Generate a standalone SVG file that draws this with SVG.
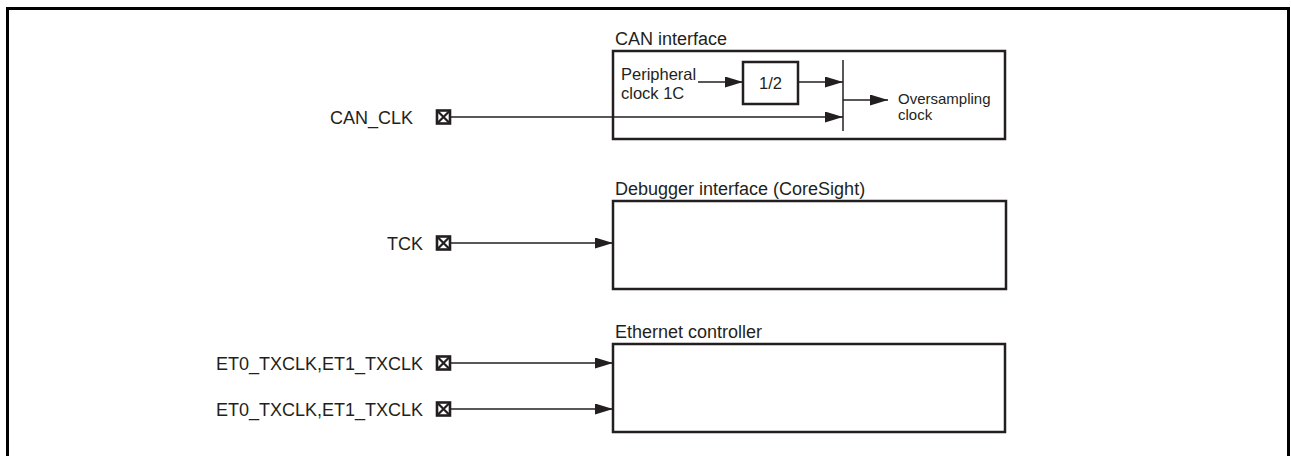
<svg xmlns="http://www.w3.org/2000/svg" width="1291" height="456" viewBox="0 0 1291 456">
<style>
text{font-family:"Liberation Sans",Arial,sans-serif;fill:#231f20}
.lbl{font-size:18px}
.sm{font-size:16.5px}
.xs{font-size:15px}
.box{fill:#fff;stroke:#231f20;stroke-width:2.5}
.wire{fill:none;stroke:#231f20;stroke-width:1.5}
.pin rect{fill:#fff;stroke:#231f20;stroke-width:2.6}
.pin path{stroke:#231f20;stroke-width:2.2}
</style>
<defs>
<marker id="ah" markerUnits="userSpaceOnUse" markerWidth="20" markerHeight="12" refX="18" refY="5.5" orient="auto">
<path d="M0,0 L18,5.5 L0,11 z" fill="#231f20"/>
</marker>
</defs>
<path d="M7.5,456 V8.5 H1288.5 V456" fill="none" stroke="#000" stroke-width="3"/>

<g id="can-interface">
<text class="lbl" x="615" y="45">CAN interface</text>
<rect class="box" x="613" y="51" width="392" height="88"/>
<text class="sm" x="621" y="80">Peripheral</text>
<text class="sm" x="621" y="99">clock 1C</text>
<g id="div2">
<rect class="box" x="743" y="62" width="55" height="42"/>
<text class="sm" x="770.5" y="89" text-anchor="middle">1/2</text>
</g>
<line x1="843" y1="60" x2="843" y2="131" stroke="#231f20" stroke-width="1.5"/>
<text class="xs" x="898" y="104">Oversampling</text>
<text class="xs" x="898" y="120">clock</text>
</g>

<g id="debugger-interface">
<text class="lbl" x="615" y="195">Debugger interface (CoreSight)</text>
<rect class="box" x="613" y="201" width="393" height="88"/>
</g>

<g id="ethernet-controller">
<text class="lbl" x="615" y="338">Ethernet controller</text>
<rect class="box" x="613" y="344" width="392" height="88"/>
</g>

<g id="pin-can-clk" class="pin">
<text class="lbl" x="413" y="123.5" text-anchor="end">CAN_CLK</text>
<rect x="437" y="110.5" width="13" height="13"/>
<path d="M437,110.5 L450,123.5 M450,110.5 L437,123.5"/>
</g>
<g id="pin-tck" class="pin">
<text class="lbl" x="423" y="249.5" text-anchor="end">TCK</text>
<rect x="437" y="236.5" width="13" height="13"/>
<path d="M437,236.5 L450,249.5 M450,236.5 L437,249.5"/>
</g>
<g id="pin-et-1" class="pin">
<text class="lbl" x="423" y="369.5" text-anchor="end">ET0_TXCLK,ET1_TXCLK</text>
<rect x="437" y="356.5" width="13" height="13"/>
<path d="M437,356.5 L450,369.5 M450,356.5 L437,369.5"/>
</g>
<g id="pin-et-2" class="pin">
<text class="lbl" x="423" y="415.5" text-anchor="end">ET0_TXCLK,ET1_TXCLK</text>
<rect x="437" y="402.5" width="13" height="13"/>
<path d="M437,402.5 L450,415.5 M450,402.5 L437,415.5"/>
</g>

<g id="connectors">
<path class="wire" d="M698,82 H743" marker-end="url(#ah)"/>
<path class="wire" d="M798,82 H843" marker-end="url(#ah)"/>
<path class="wire" d="M451,117 H843" marker-end="url(#ah)"/>
<path class="wire" d="M843,100 H888" marker-end="url(#ah)"/>
<path class="wire" d="M451,243 H613" marker-end="url(#ah)"/>
<path class="wire" d="M451,363 H613" marker-end="url(#ah)"/>
<path class="wire" d="M451,409 H613" marker-end="url(#ah)"/>
</g>
</svg>
